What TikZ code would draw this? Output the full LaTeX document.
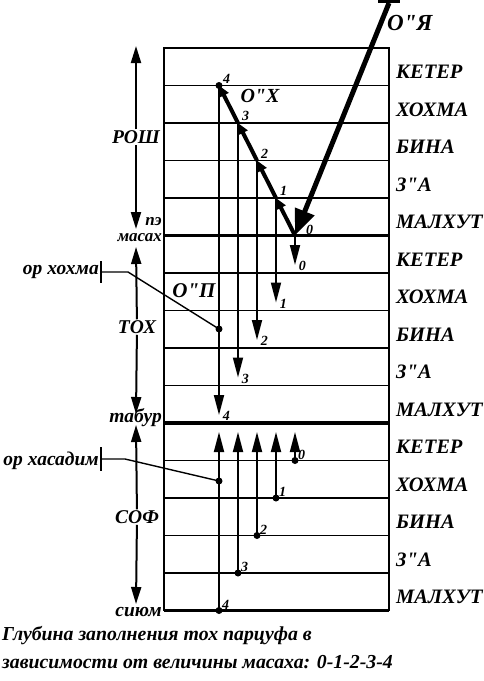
\documentclass[tikz,border=0pt]{standalone}
\usepackage{fontspec}
\setmainfont{Liberation Serif}[Ligatures=TeXOff]
\usetikzlibrary{arrows.meta, positioning}
\tikzset{
  bi/.style={font=\bfseries\itshape\fontsize{#1}{#1}\selectfont, inner sep=0pt},
  sfira/.style={bi=20.5, anchor=west},
  side/.style={bi=19.5, anchor=east},
  part/.style={bi=19.5, fill=white, inner sep=1pt},
  num/.style={bi=14},
  grid/.style={line width=1.7pt},
  masah/.style={line width=3.8pt},
  ray/.style={line width=1.8pt, -{Triangle[length=20pt,width=10pt]}},
  axis/.style={line width=2pt, -{Triangle[length=17pt,width=10pt]}},
  ohozer/.style={line width=4pt, -{Triangle[length=11pt,width=10pt]}},
  dot/.style={circle, fill, inner sep=0pt, minimum size=7pt}
}

\begin{document}
\begin{tikzpicture}[x=1pt,y=-1pt]
    \useasboundingbox (0,0) rectangle (483,681);

    % 15 sfirot: rosh, toh, sof
    \draw[grid] (164,48) rectangle (389,610.5);
    \foreach \k in {1,2,3,4,6,7,8,9,11,12,13,14}
        \draw[grid] (164,48+37.5*\k) -- (389,48+37.5*\k);
    \foreach \k in {5,10,15}
        \draw[masah] (164,48+37.5*\k) -- (389,48+37.5*\k);
    \foreach \name [count=\k from 0] in {КЕТЕР,ХОХМА,БИНА,З"А,МАЛХУТ,КЕТЕР,ХОХМА,БИНА,З"А,МАЛХУТ,КЕТЕР,ХОХМА,БИНА,З"А,МАЛХУТ}
        \node[sfira] (sf\k) at (396,48+37.5*\k+24) {\name};

    % levels 0..4
    \foreach \n in {0,...,4} {
        \coordinate (r\n) at (295-19*\n,235.5-37.5*\n);
        \coordinate (t\n) at (295-19*\n,265+37.5*\n);
        \coordinate (s\n) at (295-19*\n,460.5+37.5*\n);
        \coordinate (u\n) at (295-19*\n,432);
    }

    % or yashar
    \coordinate (oya) at (389,3);
    \draw[line width=3pt] (378,1.5) -- (400,1.5);
    \draw[line width=5pt, -{Triangle[length=26pt,width=20pt]}] (oya) -- (r0);
    \node[bi=23, anchor=west] (oyalbl) at (387,23) {О"Я};

    % or hozer
    \foreach \n [count=\m] in {0,...,3}
        \draw[ohozer] (r\n) -- (r\m);
    \node[dot] (d4) at (r4) {};
    \node[bi=20] (ohlbl) at (260,96) {О"Х};
    \node[num, anchor=south west] (rn0) at ([xshift=11pt,yshift=1pt]r0) {0};
    \foreach \n in {1,...,4}
        \node[num, anchor=south west] (rn\n) at ([xshift=4pt,yshift=2pt]r\n) {\n};

    % or pnimi in toh
    \foreach \n in {0,...,4}
        \draw[ray] (r\n) -- (t\n) node[num, anchor=west, xshift=3pt, yshift=-1pt] (tn\n) {\n};
    \node[bi=21] (oplbl) at (194,291) {О"П};

    % or makif in sof
    \foreach \n in {0,...,4} {
        \draw[ray] (s\n) -- (u\n);
        \node[dot] (sd\n) at (s\n) {};
        \node[num, anchor=south west] (sn\n) at ([xshift=3pt,yshift=1pt]s\n) {\n};
    }

    % or hohma, or hasadim
    \node[side] (orh) at (99,272) {ор хохма};
    \coordinate (orhb) at (101,272);
    \coordinate (ph) at (219,329);
    \draw[line width=1.7pt] ([yshift=11pt]orhb) -- ([yshift=-11pt]orhb);
    \draw[line width=1.4pt] (orhb) -- ++(27,0) -- (ph);
    \node[dot] (phd) at (ph) {};

    \node[side] (orc) at (99,461) {ор хасадим};
    \coordinate (orcb) at (101,459);
    \coordinate (hh) at (219,481);
    \draw[line width=1.7pt] ([yshift=12pt]orcb) -- ([yshift=-12pt]orcb);
    \draw[line width=1.4pt] (orcb) -- ++(24,0) -- (hh);
    \node[dot] (hhd) at (hh) {};

    % rosh, toh, sof
    \node[part] (rosh) at (136,137) {РОШ};
    \coordinate (roshT) at (136,46);
    \coordinate (roshB) at (136,229);
    \draw[axis] (rosh) -- (roshT);
    \draw[axis] (rosh) -- (roshB);
    \node[part] (toh) at (137,327) {ТОХ};
    \coordinate (tohT) at (136,247);
    \coordinate (tohB) at (136,414);
    \draw[axis] (toh) -- (tohT);
    \draw[axis] (toh) -- (tohB);
    \node[part] (sof) at (137,517) {СОФ};
    \coordinate (sofT) at (136,425);
    \coordinate (sofB) at (136,604);
    \draw[axis] (sof) -- (sofT);
    \draw[axis] (sof) -- (sofB);

    \node[side, align=right, font=\bfseries\itshape\fontsize{17}{16}\selectfont] (pe) at (162,229.5) {пэ\\масах};
    \node[side] (tabur) at (162,418) {табур};
    \node[side] (sium) at (162,612) {сиюм};

    % caption
    \node[bi=19.8, anchor=west] (cap1) at (2,636) {Глубина заполнения тох парцуфа в};
    \node[bi=19.8, anchor=west] (cap2) at (2,662) {зависимости от величины масаха: 0-1-2-3-4};
\end{tikzpicture}
\end{document}
